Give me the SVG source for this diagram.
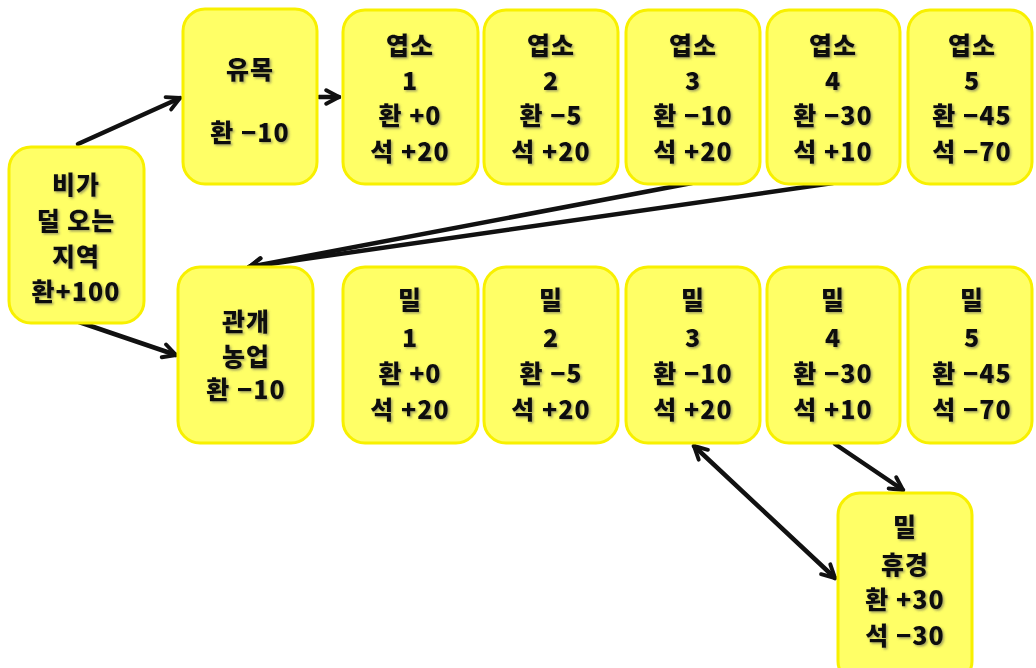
<svg xmlns="http://www.w3.org/2000/svg" width="1036" height="668" viewBox="0 0 1036 668">
  <style>
    .box { fill: #ffff66; stroke: #f8f000; stroke-width: 3; }
    .lbl { font-family: "Noto Sans CJK KR", "Noto Sans", sans-serif; font-weight: 900; font-size: 25px; letter-spacing: 1px; fill: #111; text-anchor: middle; filter: url(#shadow); }
    .wire { stroke: #111; stroke-width: 4.5; fill: none; stroke-linecap: round; marker-end: url(#head); }
  </style>
  <defs>
    <marker id="head" viewBox="0 0 12 12" markerWidth="18" markerHeight="18" markerUnits="userSpaceOnUse" refX="10.5" refY="6" orient="auto-start-reverse">
      <path d="M2,1.5 L10.5,6 L2,10.5" fill="none" stroke="#111" stroke-width="2.6" stroke-linecap="round" stroke-linejoin="round"/>
    </marker>
    <filter id="shadow" x="-10%" y="-10%" width="130%" height="140%">
      <feDropShadow dx="1.5" dy="1.5" stdDeviation="0.8" flood-color="#555" flood-opacity="0.55"/>
    </filter>
  </defs>
  <rect width="1036" height="668" fill="#ffffff"/>

  <g id="connectors">
    <line class="wire" x1="78" y1="144" x2="180" y2="98"/>
    <line class="wire" x1="319" y1="97" x2="339" y2="97"/>
    <line class="wire" x1="692" y1="183" x2="249" y2="267"/>
    <line class="wire" x1="833" y1="183" x2="249" y2="267"/>
    <line class="wire" x1="79" y1="322" x2="176" y2="355"/>
    <line class="wire" x1="694" y1="446" x2="835" y2="578" style="marker-start: url(#head)"/>
    <line class="wire" x1="835" y1="444" x2="903" y2="490"/>
  </g>

  <g id="dry-region">
    <rect class="box" x="9" y="147" width="135" height="176" rx="22"/>
    <text class="lbl" x="76" y="194">비가</text>
    <text class="lbl" x="76" y="230">덜 오는</text>
    <text class="lbl" x="76" y="266">지역</text>
    <text class="lbl" x="76" y="301">환+100</text>
  </g>

  <g id="nomad">
    <rect class="box" x="183" y="9" width="134" height="175" rx="22"/>
    <text class="lbl" x="250" y="79">유목</text>
    <text class="lbl" x="250" y="142">환 −10</text>
  </g>

  <g id="irrigation">
    <rect class="box" x="178" y="267" width="135" height="176" rx="22"/>
    <text class="lbl" x="246" y="331">관개</text>
    <text class="lbl" x="246" y="366">농업</text>
    <text class="lbl" x="246" y="399">환 −10</text>
  </g>

  <g id="burn-1">
    <rect class="box" x="343" y="10" width="135" height="174" rx="22"/>
    <text class="lbl" x="410" y="55">엽소</text>
    <text class="lbl" x="410" y="90">1</text>
    <text class="lbl" x="410" y="125">환 +0</text>
    <text class="lbl" x="410" y="161">석 +20</text>
  </g>
  <g id="burn-2">
    <rect class="box" x="484" y="10" width="134" height="174" rx="22"/>
    <text class="lbl" x="551" y="55">엽소</text>
    <text class="lbl" x="551" y="90">2</text>
    <text class="lbl" x="551" y="125">환 −5</text>
    <text class="lbl" x="551" y="161">석 +20</text>
  </g>
  <g id="burn-3">
    <rect class="box" x="626" y="10" width="134" height="174" rx="22"/>
    <text class="lbl" x="693" y="55">엽소</text>
    <text class="lbl" x="693" y="90">3</text>
    <text class="lbl" x="693" y="125">환 −10</text>
    <text class="lbl" x="693" y="161">석 +20</text>
  </g>
  <g id="burn-4">
    <rect class="box" x="767" y="10" width="133" height="174" rx="22"/>
    <text class="lbl" x="833" y="55">엽소</text>
    <text class="lbl" x="833" y="90">4</text>
    <text class="lbl" x="833" y="125">환 −30</text>
    <text class="lbl" x="833" y="161">석 +10</text>
  </g>
  <g id="burn-5">
    <rect class="box" x="908" y="10" width="124" height="174" rx="22"/>
    <text class="lbl" x="972" y="55">엽소</text>
    <text class="lbl" x="972" y="90">5</text>
    <text class="lbl" x="972" y="125">환 −45</text>
    <text class="lbl" x="972" y="161">석 −70</text>
  </g>

  <g id="wheat-1">
    <rect class="box" x="343" y="267" width="135" height="176" rx="22"/>
    <text class="lbl" x="410" y="309">밀</text>
    <text class="lbl" x="410" y="347">1</text>
    <text class="lbl" x="410" y="383">환 +0</text>
    <text class="lbl" x="410" y="419">석 +20</text>
  </g>
  <g id="wheat-2">
    <rect class="box" x="484" y="267" width="134" height="176" rx="22"/>
    <text class="lbl" x="551" y="309">밀</text>
    <text class="lbl" x="551" y="347">2</text>
    <text class="lbl" x="551" y="383">환 −5</text>
    <text class="lbl" x="551" y="419">석 +20</text>
  </g>
  <g id="wheat-3">
    <rect class="box" x="626" y="267" width="134" height="176" rx="22"/>
    <text class="lbl" x="693" y="309">밀</text>
    <text class="lbl" x="693" y="347">3</text>
    <text class="lbl" x="693" y="383">환 −10</text>
    <text class="lbl" x="693" y="419">석 +20</text>
  </g>
  <g id="wheat-4">
    <rect class="box" x="767" y="267" width="133" height="176" rx="22"/>
    <text class="lbl" x="833" y="309">밀</text>
    <text class="lbl" x="833" y="347">4</text>
    <text class="lbl" x="833" y="383">환 −30</text>
    <text class="lbl" x="833" y="419">석 +10</text>
  </g>
  <g id="wheat-5">
    <rect class="box" x="908" y="267" width="124" height="176" rx="22"/>
    <text class="lbl" x="972" y="309">밀</text>
    <text class="lbl" x="972" y="347">5</text>
    <text class="lbl" x="972" y="383">환 −45</text>
    <text class="lbl" x="972" y="419">석 −70</text>
  </g>

  <g id="wheat-fallow">
    <rect class="box" x="838" y="493" width="134" height="190" rx="22"/>
    <text class="lbl" x="905" y="536">밀</text>
    <text class="lbl" x="905" y="574">휴경</text>
    <text class="lbl" x="905" y="609">환 +30</text>
    <text class="lbl" x="905" y="645">석 −30</text>
  </g>
</svg>
